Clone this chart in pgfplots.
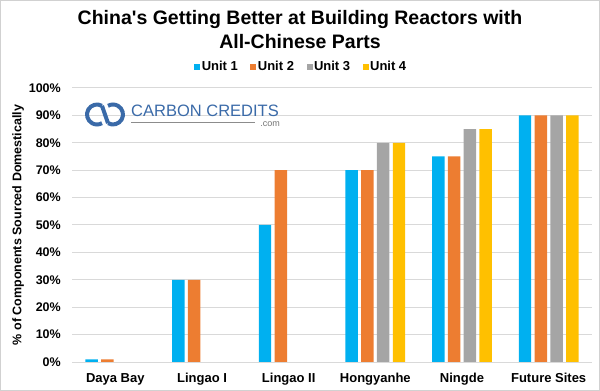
\documentclass[border=0pt]{standalone}
\usepackage{fontspec}
\setmainfont{Liberation Sans}[Ligatures=TeXOff]
\usepackage{pgfplots}
\usepackage{pgfplotstable}
\pgfplotsset{compat=1.18}
\definecolor{uone}{HTML}{00B0F0}
\definecolor{utwo}{HTML}{ED7D31}
\definecolor{uthree}{HTML}{A5A5A5}
\definecolor{ufour}{HTML}{FFC000}
\definecolor{gridc}{HTML}{D9D9D9}
\definecolor{logob}{HTML}{3A6AA8}

\pgfplotstableread{
x u1 u2 u3 u4
0 1 1 0 0
1 30 30 0 0
2 50 70 0 0
3 70 70 80 80
4 75 75 85 85
5 90 90 90 90
}\data

\begin{document}
\begin{tikzpicture}
\path[use as bounding box] (0,0) rectangle (600bp,391bp);
\draw[black!18, line width=1bp] (0.5bp,0.5bp) rectangle (599.5bp,390.5bp);
% title
\node[anchor=base, font=\fontsize{19.5bp}{23bp}\selectfont\bfseries, inner sep=0] at (300bp,366bp) {China's Getting Better at Building Reactors with};
\node[anchor=base, font=\fontsize{19.5bp}{23bp}\selectfont\bfseries, inner sep=0] at (300bp,342bp) {All-Chinese Parts};
\begin{axis}[
  at={(72bp,29bp)}, anchor=south west,
  scale only axis, width=520bp, height=274bp,
  xmin=-0.5, xmax=5.5, ymin=0, ymax=100,
  axis line style={draw=none},
  major tick length=0pt,
  ymajorgrids, grid style={gridc, line width=1bp},
  ytick={0,10,...,100},
  yticklabels={0\%,10\%,20\%,30\%,40\%,50\%,60\%,70\%,80\%,90\%,100\%},
  yticklabel style={anchor=east, inner sep=0pt, xshift=-11bp, font=\fontsize{12.5bp}{15bp}\selectfont\bfseries},
  xtick={0,1,2,3,4,5},
  xticklabels={Daya Bay,Lingao I,Lingao II,Hongyanhe,Ningde,Future Sites},
  xticklabel style={anchor=base, inner sep=0pt, yshift=-20bp, font=\fontsize{13bp}{15bp}\selectfont\bfseries},
  ylabel={\% of Components Sourced Domestically},
  every axis y label/.style={at={(axis description cs:-0.1038,0.5)}, rotate=90, anchor=center, font=\fontsize{12.5bp}{14bp}\selectfont\bfseries},
  ybar, bar width=0.144,
  legend columns=4,
  legend image code/.code={\fill (0bp,-3bp) rectangle (6bp,3bp);},
  legend style={at={(axis description cs:0.4404,1.0766)}, anchor=center, draw=none, fill=none,
    font=\fontsize{13bp}{15bp}\selectfont\bfseries,
    nodes={inner xsep=1.5bp, inner ysep=1bp},
    /tikz/every even column/.append style={column sep=11bp}},
]
\addplot[fill=uone, draw=none, bar shift=-0.273] table[x=x, y=u1] {\data};
\addplot[fill=utwo, draw=none, bar shift=-0.091] table[x=x, y=u2] {\data};
\addplot[fill=uthree, draw=none, bar shift=0.091] table[x=x, y=u3] {\data};
\addplot[fill=ufour, draw=none, bar shift=0.273] table[x=x, y=u4] {\data};
\legend{Unit 1,Unit 2,Unit 3,Unit 4}
\end{axis}
% logo
\draw[logob, line width=4bp] (97bp,276.5bp) ++(60:10bp) arc[start angle=60, end angle=300, radius=10bp];
\draw[logob, line width=4bp] (113bp,276.5bp) ++(240:10bp) arc[start angle=240, end angle=480, radius=10bp];
\draw[logob, line width=4bp] (102bp,285.2bp) -- (108bp,267.8bp);
\node[anchor=base west, text=logob, font=\fontsize{16.5bp}{18bp}\selectfont, inner sep=0] at (131bp,274bp) {CARBON CREDITS};
\draw[black!45, line width=1bp] (131bp,268bp) -- (255bp,268bp);
\node[anchor=base east, text=black!55, font=\fontsize{9bp}{10bp}\selectfont, inner sep=0] at (280bp,264bp) {.com};
\end{tikzpicture}
\end{document}
